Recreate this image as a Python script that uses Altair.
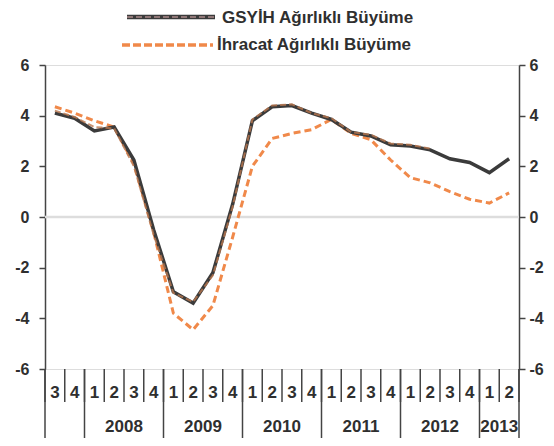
import altair as alt
import pandas as pd

# ---- data ----
quarters = ["3", "4",
            "1", "2", "3", "4",
            "1", "2", "3", "4",
            "1", "2", "3", "4",
            "1", "2", "3", "4",
            "1", "2", "3", "4",
            "1", "2"]
years = ["2008", "2009", "2010", "2011", "2012", "2013"]
year_first_idx = [2, 6, 10, 14, 18, 22]
year_last_idx = [5, 9, 13, 17, 21, 23]

gsyih = [4.1, 3.9, 3.4, 3.55, 2.25, -0.5, -2.95, -3.4, -2.2, 0.5,
         3.8, 4.35, 4.4, 4.1, 3.85, 3.35, 3.2, 2.85, 2.8, 2.65,
         2.3, 2.15, 1.75, 2.3]
# brownish trace printed over the GSYİH line (visible up to 2012Q2)
gsyih_trace = [4.2, 3.95, 3.55, 3.5, 2.0, -0.7, -3.0, -3.35, -2.3, 0.4,
               3.85, 4.4, 4.45, 4.1, 3.9, 3.35, 3.25, 2.9, 2.85, 2.7,
               None, None, None, None]
ihracat = [4.35, 4.1, 3.8, 3.55, 2.1, -0.6, -3.8, -4.45, -3.5, -0.8,
           2.0, 3.1, 3.3, 3.45, 3.85, 3.3, 3.05, 2.25, 1.55, 1.35,
           1.0, 0.7, 0.55, 0.95]
y_ticks = [-6, -4, -2, 0, 2, 4, 6]
series_names = ["GSYİH Ağırlıklı Büyüme", "İhracat Ağırlıklı Büyüme"]

W, H = 474, 304
FONT = "Liberation Sans"
TXT = "#2f2f2f"
AX = "#444444"
DARK = "#3b3b3b"
BROWN = "#b9774f"
ORANGE = "#f0894a"

idx = list(range(len(quarters)))
df_g = pd.DataFrame({"i": idx, "v": gsyih})
df_t = pd.DataFrame({"i": idx, "v": gsyih_trace}).dropna()
df_i = pd.DataFrame({"i": idx, "v": ihracat})
df_q = pd.DataFrame({"i": idx, "q": quarters})
df_y = pd.DataFrame({"c": [(a + b) / 2 for a, b in zip(year_first_idx, year_last_idx)], "y": years})
bounds = [b - 0.5 for b in range(len(quarters) + 1)]
year_bounds = [-0.5] + [f - 0.5 for f in year_first_idx] + [len(quarters) - 0.5]
df_sep = pd.DataFrame({"b": bounds})
df_ysep = pd.DataFrame({"b": year_bounds})

xs = alt.Scale(domain=[-0.5, len(quarters) - 0.5], nice=False, zero=False)
ys = alt.Scale(domain=[-6, 6], nice=False)

label_expr = "datum.value < 0 ? '-' + abs(datum.value) : '' + datum.value"

x_enc = alt.X("i:Q", scale=xs,
              axis=alt.Axis(labels=False, ticks=False, grid=False, title=None,
                            domainColor=AX, domainWidth=1.5))

zero = alt.Chart(pd.DataFrame({"v": [0]})).mark_rule(color="#dddddd", strokeWidth=2.5).encode(
    y=alt.Y("v:Q", scale=ys, axis=None))

line_g = alt.Chart(df_g).mark_line(color=DARK, strokeWidth=3.5).encode(
    x=x_enc,
    y=alt.Y("v:Q", scale=ys,
            axis=alt.Axis(orient="left", values=y_ticks, title=None, grid=False,
                          domainColor=AX, domainWidth=1.5, tickColor=AX, tickWidth=1.5,
                          tickSize=6, labelPadding=10, labelFont=FONT, labelFontSize=16,
                          labelFontWeight="bold", labelColor=TXT, labelExpr=label_expr)))
line_t = alt.Chart(df_t).mark_line(color=BROWN, strokeWidth=2, strokeDash=[6, 3], opacity=0.8).encode(
    x=alt.X("i:Q", scale=xs, axis=None), y=alt.Y("v:Q", scale=ys, axis=None))
line_i = alt.Chart(df_i).mark_line(color=ORANGE, strokeWidth=3, strokeDash=[7, 4]).encode(
    x=alt.X("i:Q", scale=xs, axis=None),
    y=alt.Y("v:Q", scale=ys,
            axis=alt.Axis(orient="right", values=y_ticks, title=None, grid=False,
                          domainColor=AX, domainWidth=1.5, tickColor=AX, tickWidth=1.5,
                          tickSize=6, labelPadding=4, labelFont=FONT, labelFontSize=16,
                          labelFontWeight="bold", labelColor=TXT, labelExpr=label_expr)))

sep = alt.Chart(df_sep).mark_rule(color=AX, strokeWidth=1.5).encode(
    x=alt.X("b:Q", scale=xs, axis=None), y=alt.value(H), y2=alt.value(H + 33))
ysep = alt.Chart(df_ysep).mark_rule(color=AX, strokeWidth=1.5).encode(
    x=alt.X("b:Q", scale=xs, axis=None), y=alt.value(H), y2=alt.value(H + 72))

qtext = alt.Chart(df_q).mark_text(font=FONT, fontSize=17, fontWeight="bold", color=TXT,
                                  baseline="middle").encode(
    x=alt.X("i:Q", scale=xs, axis=None), y=alt.value(H + 24), text="q:N")
ytext = alt.Chart(df_y).mark_text(font=FONT, fontSize=17, fontWeight="bold", color=TXT,
                                  baseline="middle").encode(
    x=alt.X("c:Q", scale=xs, axis=None), y=alt.value(H + 58), text="y:N")

# legend
leg_g = alt.Chart(pd.DataFrame({"n": [series_names[0]]})).mark_rule(color=DARK, strokeWidth=4.5).encode(
    x=alt.value(82), x2=alt.value(170), y=alt.value(-48))
leg_gt2 = alt.Chart(pd.DataFrame({"n": [series_names[0]]})).mark_rule(
    color="#c9a0a0", strokeWidth=1.5, strokeDash=[6, 3], opacity=0.8).encode(
    x=alt.value(82), x2=alt.value(170), y=alt.value(-48))
leg_gt = alt.Chart(pd.DataFrame({"n": [series_names[0]]})).mark_text(
    font=FONT, fontSize=17, fontWeight="bold", color=TXT, align="left", baseline="middle").encode(
    x=alt.value(177), y=alt.value(-47), text="n:N")
leg_i = alt.Chart(pd.DataFrame({"n": [series_names[1]]})).mark_rule(
    color=ORANGE, strokeWidth=3.5, strokeDash=[8, 3]).encode(
    x=alt.value(77), x2=alt.value(168), y=alt.value(-20))
leg_it = alt.Chart(pd.DataFrame({"n": [series_names[1]]})).mark_text(
    font=FONT, fontSize=17, fontWeight="bold", color=TXT, align="left", baseline="middle").encode(
    x=alt.value(172), y=alt.value(-20), text="n:N")

chart = alt.layer(zero, line_i, line_g, line_t, sep, ysep, qtext, ytext,
                  leg_g, leg_gt2, leg_gt, leg_i, leg_it).resolve_axis(y="independent").properties(
    width=W, height=H,
    autosize=alt.AutoSizeParams(type="none"),
    padding={"left": 37, "top": 57, "right": 27, "bottom": 69},
).configure_view(stroke=None).configure(background="white")

chart.save("out.html", embed_options={"renderer": "svg", "actions": False})
